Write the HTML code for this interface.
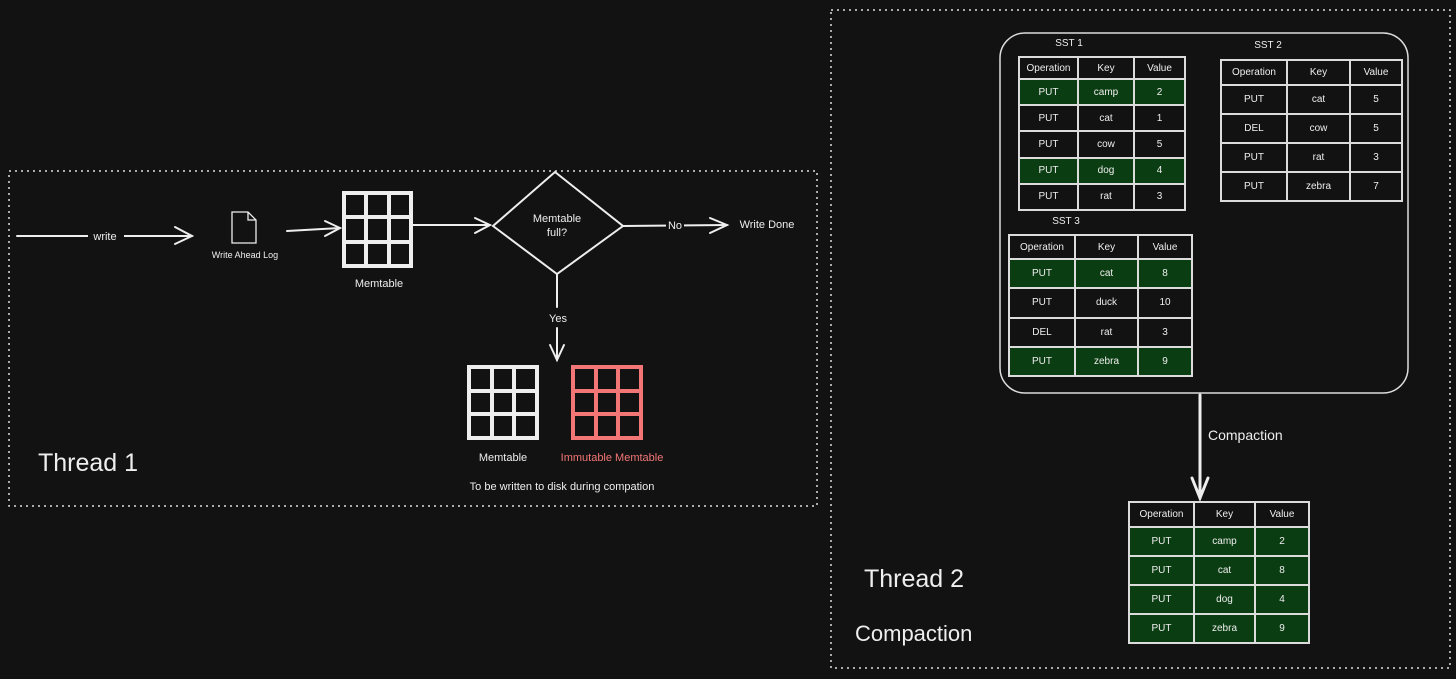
<!DOCTYPE html>
<html><head><meta charset="utf-8"><style>
html,body{margin:0;padding:0;background:#121212;}
body{width:1456px;height:679px;position:relative;overflow:hidden;font-family:"Liberation Sans",sans-serif;color:#eee;}
table{position:absolute;border-collapse:collapse;border:2px solid #dcdcdc;font-size:10px;color:#eee;table-layout:fixed;}
td{border:2px solid #dcdcdc;text-align:center;padding:0;}
tr.g td{background:#0b3d12;}
.t{position:absolute;white-space:nowrap;}
</style></head><body>
<svg width="1456" height="679" style="position:absolute;left:0;top:0" xmlns="http://www.w3.org/2000/svg">
<g fill="none" stroke="#ddd" stroke-width="1.5" stroke-dasharray="2,4">
<rect x="9" y="171" width="808" height="335"/>
<rect x="831" y="10" width="619" height="658"/>
</g>
<rect x="1000" y="33" width="408" height="360" rx="25" fill="none" stroke="#ddd" stroke-width="1.5"/>
<g stroke="#eee" stroke-width="2" fill="none" stroke-linecap="round">
<line x1="17" y1="236" x2="192" y2="236"/><polyline points="175,227 192,236 175,244"/>
<line x1="287" y1="231" x2="340" y2="228"/><polyline points="325,221 340,228 325,236"/>
<line x1="411" y1="225" x2="490" y2="225"/><polyline points="475,218 490,225 475,233"/>
<polygon points="555,172 623,226 557,274 493,226"/>
<line x1="623" y1="226" x2="727" y2="225"/><polyline points="710,218 727,225 710,233"/>
<line x1="557" y1="274" x2="557" y2="307"/><line x1="557" y1="328" x2="557" y2="360"/><polyline points="550,345 557,360 564,345"/>
<path d="M232,212 h16 l8,8 v23 h-24 z M248,212 v8 h8" stroke-width="1.3"/>
<line x1="1200" y1="395" x2="1200" y2="498" stroke-width="3"/><polyline points="1192,478 1200,498 1208,478" stroke-width="3"/>
</g>
<g fill="none" stroke="#eee" stroke-width="4">
<rect x="344" y="193" width="67" height="73"/><line x1="366" y1="193" x2="366" y2="266"/><line x1="389" y1="193" x2="389" y2="266"/><line x1="344" y1="217" x2="411" y2="217"/><line x1="344" y1="242" x2="411" y2="242"/>
<rect x="469" y="367" width="68" height="71"/><line x1="492" y1="367" x2="492" y2="438"/><line x1="514" y1="367" x2="514" y2="438"/><line x1="469" y1="391" x2="537" y2="391"/><line x1="469" y1="414" x2="537" y2="414"/>
</g>
<g fill="none" stroke="#f27676" stroke-width="4">
<rect x="573" y="367" width="68" height="71"/><line x1="596" y1="367" x2="596" y2="438"/><line x1="618" y1="367" x2="618" y2="438"/><line x1="573" y1="391" x2="641" y2="391"/><line x1="573" y1="414" x2="641" y2="414"/>
</g>
<g fill="#eee" font-family="Liberation Sans, sans-serif" text-anchor="middle">
<rect x="88" y="229" width="36" height="14" fill="#121212"/>
<text x="105" y="240" font-size="11">write</text>
<text x="245" y="258" font-size="9">Write Ahead Log</text>
<text x="379" y="287" font-size="11">Memtable</text>
<text x="557" y="222" font-size="11">Memtable</text>
<text x="557" y="236" font-size="11">full?</text>
<rect x="666" y="219" width="18" height="12" fill="#121212"/>
<text x="675" y="229" font-size="11">No</text>
<text x="767" y="228" font-size="11">Write Done</text>
<text x="558" y="322" font-size="11">Yes</text>
<text x="503" y="461" font-size="11">Memtable</text>
<text x="612" y="461" font-size="11" fill="#f27676">Immutable Memtable</text>
<text x="562" y="490" font-size="11">To be written to disk during compation</text>
<text x="1069" y="46" font-size="10">SST 1</text>
<text x="1268" y="48" font-size="10">SST 2</text>
<text x="1066" y="224" font-size="10">SST 3</text>
</g>
<g fill="#eee" font-family="Liberation Sans, sans-serif">
<text x="1208" y="440" font-size="14">Compaction</text>
<text x="38" y="471" font-size="25">Thread 1</text>
<text x="864" y="587" font-size="25">Thread 2</text>
<text x="855" y="641" font-size="22">Compaction</text>
</g>
</svg>

<table style="left:1018px;top:56px;width:166px;height:155px">
<colgroup><col style="width:59px"><col style="width:56px"><col style="width:51px"></colgroup>
<tr style="height:22px"><td>Operation</td><td>Key</td><td>Value</td></tr>
<tr class="g"><td>PUT</td><td>camp</td><td>2</td></tr>
<tr><td>PUT</td><td>cat</td><td>1</td></tr>
<tr><td>PUT</td><td>cow</td><td>5</td></tr>
<tr class="g"><td>PUT</td><td>dog</td><td>4</td></tr>
<tr><td>PUT</td><td>rat</td><td>3</td></tr>
</table>

<table style="left:1220px;top:59px;width:181px;height:143px">
<colgroup><col style="width:66px"><col style="width:63px"><col style="width:52px"></colgroup>
<tr style="height:25px"><td>Operation</td><td>Key</td><td>Value</td></tr>
<tr><td>PUT</td><td>cat</td><td>5</td></tr>
<tr><td>DEL</td><td>cow</td><td>5</td></tr>
<tr><td>PUT</td><td>rat</td><td>3</td></tr>
<tr><td>PUT</td><td>zebra</td><td>7</td></tr>
</table>

<table style="left:1008px;top:234px;width:183px;height:143px">
<colgroup><col style="width:66px"><col style="width:63px"><col style="width:54px"></colgroup>
<tr style="height:24px"><td>Operation</td><td>Key</td><td>Value</td></tr>
<tr class="g"><td>PUT</td><td>cat</td><td>8</td></tr>
<tr><td>PUT</td><td>duck</td><td>10</td></tr>
<tr><td>DEL</td><td>rat</td><td>3</td></tr>
<tr class="g"><td>PUT</td><td>zebra</td><td>9</td></tr>
</table>

<table style="left:1128px;top:501px;width:180px;height:143px">
<colgroup><col style="width:65px"><col style="width:61px"><col style="width:54px"></colgroup>
<tr style="height:25px"><td>Operation</td><td>Key</td><td>Value</td></tr>
<tr class="g"><td>PUT</td><td>camp</td><td>2</td></tr>
<tr class="g"><td>PUT</td><td>cat</td><td>8</td></tr>
<tr class="g"><td>PUT</td><td>dog</td><td>4</td></tr>
<tr class="g"><td>PUT</td><td>zebra</td><td>9</td></tr>
</table>
</body></html>
